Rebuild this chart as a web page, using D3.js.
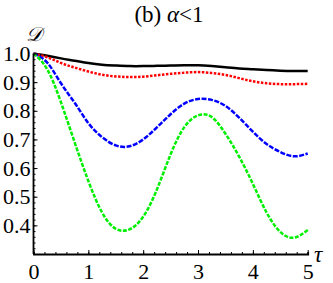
<!DOCTYPE html>
<html>
<head>
<meta charset="utf-8">
<script src="https://cdn.jsdelivr.net/npm/d3@7"></script>
<style>
body{margin:0;background:#fff;}
text{font-family:"Liberation Serif","DejaVu Serif",serif;fill:#000;}
</style>
</head>
<body>
<svg id="chart" width="333" height="283"></svg>
<script>
// tau sample points
var tau = [0,0.25,0.5,0.75,1,1.25,1.5,1.75,2,2.25,2.5,2.75,3,3.25,3.5,3.75,4,4.25,4.5,4.75,5];
// D values
var blackD = [1.0,0.992,0.983,0.975,0.967,0.961,0.958,0.956,0.956,0.957,0.958,0.959,0.959,0.956,0.952,0.948,0.945,0.942,0.940,0.939,0.939];
var redD   = [1.0,0.987,0.967,0.951,0.937,0.926,0.920,0.918,0.919,0.924,0.929,0.933,0.935,0.932,0.925,0.914,0.903,0.896,0.893,0.893,0.894];
var blueD  = [1.0,0.968,0.896,0.828,0.757,0.708,0.679,0.676,0.700,0.742,0.788,0.825,0.841,0.838,0.817,0.776,0.727,0.684,0.656,0.641,0.651];
var greenD = [1.0,0.945,0.830,0.690,0.555,0.445,0.388,0.386,0.430,0.525,0.648,0.743,0.784,0.778,0.720,0.640,0.545,0.445,0.377,0.357,0.384];
var xTicks = [0,1,2,3,4,5];
var yTicks = [0.4,0.5,0.6,0.7,0.8,0.9,1.0];

var svg = d3.select("#chart");
var x = d3.scaleLinear().domain([0,5]).range([33.5,307.7]);
var y = d3.scaleLinear().domain([0.3,1.0]).range([254,53.5]);

// title
var title = svg.append("text").attr("x",169).attr("y",22).attr("text-anchor","middle").style("font-size","23px");
title.append("tspan").text("(b) ");
title.append("tspan").style("font-style","italic").text("α");
title.append("tspan").text("<1");

// curves
var line = d3.line().x(function(d){return x(d[0]);}).y(function(d){return y(d[1]);}).curve(d3.curveNatural);
var series = [
  {v:blackD, c:"#000000", dash:null},
  {v:redD, c:"#ff0000", dash:"2.5,1.5"},
  {v:blueD, c:"#0000ff", dash:"5,1.5"},
  {v:greenD, c:"#00ee00", dash:"4,1.5"}
];
series.forEach(function(s){
  svg.append("path")
    .datum(tau.map(function(t,i){return [t,s.v[i]];}))
    .attr("d",line)
    .attr("fill","none")
    .attr("stroke",s.c)
    .attr("stroke-width",2.5)
    .attr("stroke-dasharray",s.dash);
});

// x axis
var xAxis = svg.append("g").attr("transform","translate(0,254)");
xAxis.call(d3.axisBottom(x).tickValues(d3.range(0,5.01,0.2)).tickSize(-2).tickFormat(""));
xAxis.call(function(g){
  g.select(".domain").attr("stroke-width",1.8);
  g.selectAll(".tick line").attr("stroke-width",1);
});
var xMaj = svg.append("g").attr("transform","translate(0,254)");
xMaj.call(d3.axisBottom(x).tickValues(xTicks).tickSize(-4).tickFormat(d3.format("d")));
xMaj.attr("font-size",22).attr("font-family","Liberation Serif");
xMaj.select(".domain").remove();
xMaj.selectAll(".tick text").attr("y",9).attr("dy","0.71em").style("font-size","22px").style("font-family","Liberation Serif");

// y axis
var yAxis = svg.append("g").attr("transform","translate(33.5,0)");
yAxis.call(d3.axisLeft(y).tickValues(d3.range(0.3,1.001,0.02)).tickSize(-2).tickFormat(""));
yAxis.call(function(g){
  g.select(".domain").attr("d","M0,"+y(1.0)+"V"+y(0.3)).attr("stroke-width",1.8);
  g.selectAll(".tick line").attr("stroke-width",1);
});
var yMaj = svg.append("g").attr("transform","translate(33.5,0)");
yMaj.call(d3.axisLeft(y).tickValues(yTicks).tickSize(-4).tickFormat(d3.format(".1f")));
yMaj.attr("font-size",22).attr("font-family","Liberation Serif");
yMaj.select(".domain").remove();
yMaj.selectAll(".tick text").attr("x",-3).style("font-size","22px").style("font-family","Liberation Serif");

// axis labels
svg.append("text").attr("x",34).attr("y",41).attr("text-anchor","middle").style("font-size","20px").style("font-style","italic").text("𝒟");
svg.append("text").attr("x",314).attr("y",262).style("font-size","23px").style("font-style","italic").text("τ");
</script>
</body>
</html>
